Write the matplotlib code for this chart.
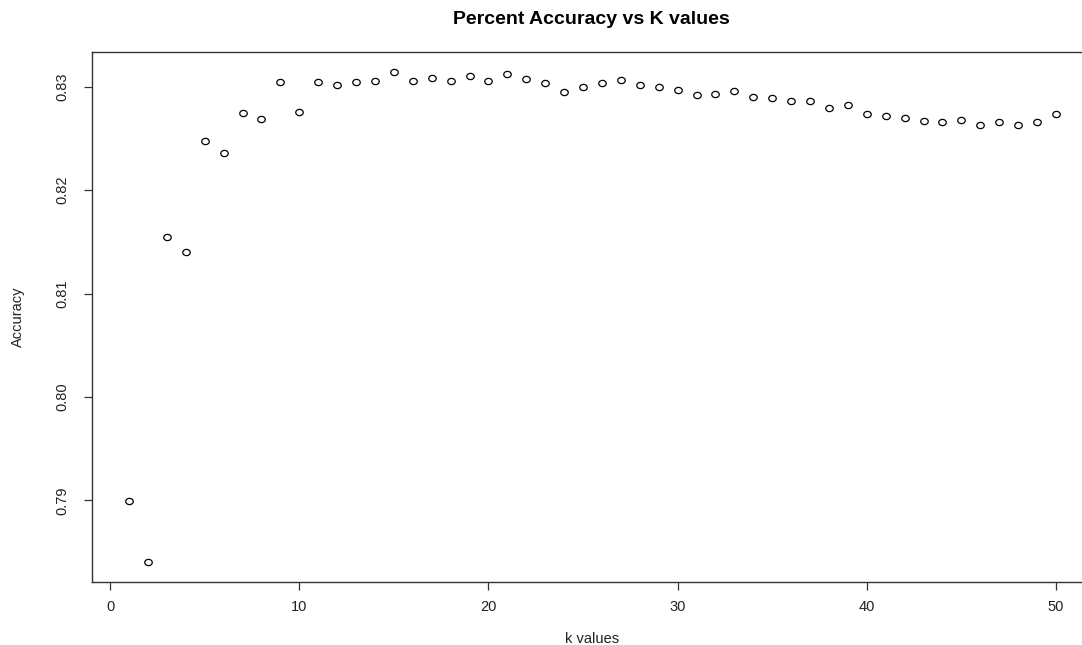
import matplotlib
matplotlib.use("Agg")
import matplotlib.pyplot as plt
from matplotlib.path import Path
from matplotlib.transforms import Affine2D

k_values = list(range(1, 51))
accuracy = [
    0.78999, 0.78402, 0.81542, 0.81397, 0.82477, 0.82355, 0.82748, 0.82684,
    0.83045, 0.82758, 0.83045, 0.83019, 0.83045, 0.83055, 0.83145, 0.83058,
    0.83087, 0.83052, 0.83104, 0.83052, 0.83120, 0.83077, 0.83036, 0.82952,
    0.82994, 0.83036, 0.83062, 0.83019, 0.82994, 0.82971, 0.82923, 0.82930,
    0.82955, 0.82903, 0.82888, 0.82864, 0.82864, 0.82797, 0.82823, 0.82739,
    0.82716, 0.82700, 0.82668, 0.82661, 0.82675, 0.82626, 0.82661, 0.82626,
    0.82661, 0.82736,
]
x_ticks = [0, 10, 20, 30, 40, 50]
y_ticks = [0.79, 0.80, 0.81, 0.82, 0.83]
y_tick_labels = ["0.79", "0.80", "0.81", "0.82", "0.83"]

plt.rcParams['font.family'] = ['Liberation Sans', 'DejaVu Sans']

W, H = 1082, 645
fig = plt.figure(figsize=(W / 100, H / 100), dpi=100)
left, right, top, bottom = 92, 1093, 52, 582
ax = fig.add_axes([left / W, 1 - bottom / H, (right - left) / W, (bottom - top) / H])

ellipse = Path.unit_circle().transformed(Affine2D().scale(1.2, 1.0))
ax.plot(k_values, accuracy, linestyle='none', marker=ellipse, markersize=5.4,
        markerfacecolor='none', markeredgecolor='black', markeredgewidth=0.9)

xmin, xmax = min(k_values), max(k_values)
ymin, ymax = min(accuracy), max(accuracy)
dx, dy = (xmax - xmin) * 0.04, (ymax - ymin) * 0.04
ax.set_xlim(xmin - dx, xmax + dx)
ax.set_ylim(ymin - dy, ymax + dy)

ax.set_xticks(x_ticks)
ax.set_xticklabels([str(t) for t in x_ticks])
ax.set_yticks(y_ticks)
ax.set_yticklabels(y_tick_labels, rotation=90, va='center')
ax.tick_params(axis='x', length=6, width=0.9, color='#333333', labelsize=10.5,
               pad=7, labelcolor='#222222')
ax.tick_params(axis='y', length=6, width=0.9, color='#333333', labelsize=10.5,
               pad=10, labelcolor='#222222')

for s in ax.spines.values():
    s.set_linewidth(1.0)
    s.set_color('#333333')
ax.spines['right'].set_visible(False)

ax.set_xlabel('k values', fontsize=10.5, labelpad=13, color='#222222')
ax.set_ylabel('Accuracy', fontsize=10.5, labelpad=22, color='#222222')
fig.text((left + right) / 2 / W - 1 / W, 1 - 19 / H, 'Percent Accuracy vs K values',
         ha='center', va='center', fontsize=14, fontweight='bold')

fig.savefig('out.png', dpi=100)
